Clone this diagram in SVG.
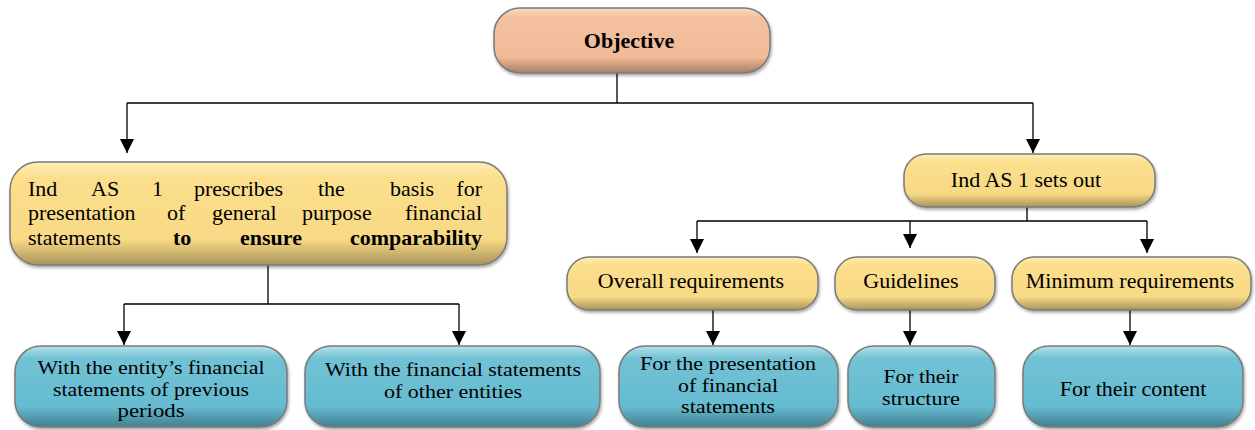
<svg xmlns="http://www.w3.org/2000/svg" width="1255" height="430" viewBox="0 0 1255 430">
<defs>
<linearGradient id="gO" x1="0" y1="0" x2="0" y2="1">
<stop offset="0" stop-color="#f9dcc6"/><stop offset="0.15" stop-color="#f4c09e"/><stop offset="0.75" stop-color="#f1bb98"/><stop offset="1" stop-color="#a77f66"/>
</linearGradient>
<linearGradient id="gY" x1="0" y1="0" x2="0" y2="1">
<stop offset="0" stop-color="#fdeeb8"/><stop offset="0.15" stop-color="#fbdf8c"/><stop offset="0.75" stop-color="#f8d985"/><stop offset="1" stop-color="#a8945a"/>
</linearGradient>
<linearGradient id="gB" x1="0" y1="0" x2="0" y2="1">
<stop offset="0" stop-color="#b7e1ea"/><stop offset="0.15" stop-color="#72c2d5"/><stop offset="0.75" stop-color="#66bbd0"/><stop offset="1" stop-color="#427f8f"/>
</linearGradient>
<filter id="sh" x="-5%" y="-10%" width="110%" height="130%">
<feDropShadow dx="1" dy="2" stdDeviation="1.5" flood-color="#000" flood-opacity="0.35"/>
</filter>
<marker id="ah" markerUnits="userSpaceOnUse" markerWidth="14" markerHeight="18" refX="14" refY="7" orient="auto">
<path d="M0,0 L14,7 L0,14 Z" fill="#000"/>
</marker>
</defs>
<style>
.box{stroke:#7a7a7a;stroke-width:1.5;filter:url(#sh)}
.o{fill:url(#gO)}
.y{fill:url(#gY)}
.b{fill:url(#gB)}
text{font-family:"Liberation Serif","Times New Roman",serif;font-size:22px;fill:#000}
.c{text-anchor:middle}
.bd{font-weight:bold}
.s{font-size:19px}
.ln{fill:none;stroke:#000;stroke-width:1.3}
</style>

<g id="connectors">
<path class="ln" d="M617,73 V103 M127,103 H1033"/>
<path class="ln" d="M127,103 V153" marker-end="url(#ah)"/>
<path class="ln" d="M1033,103 V153" marker-end="url(#ah)"/>
<path class="ln" d="M268,265 V304 M124,304 H459"/>
<path class="ln" d="M124,304 V345" marker-end="url(#ah)"/>
<path class="ln" d="M459,304 V345" marker-end="url(#ah)"/>
<path class="ln" d="M1027,207 V221 M697,221 H1147"/>
<path class="ln" d="M697,221 V253" marker-end="url(#ah)"/>
<path class="ln" d="M910,221 V248" marker-end="url(#ah)"/>
<path class="ln" d="M1147,221 V253" marker-end="url(#ah)"/>
<path class="ln" d="M713,310 V345" marker-end="url(#ah)"/>
<path class="ln" d="M910,310 V345" marker-end="url(#ah)"/>
<path class="ln" d="M1130,310 V345" marker-end="url(#ah)"/>
</g>

<g id="objective">
<rect class="box o" x="494" y="8" width="276" height="65" rx="26"/>
<text class="c bd" x="629" y="48">Objective</text>
</g>

<g id="prescribes">
<rect class="box y" x="10" y="162" width="497" height="103" rx="28"/>
<text x="28" y="196">Ind</text><text x="91" y="196">AS</text><text x="152" y="196">1</text><text x="194" y="196">prescribes</text><text x="318" y="196">the</text><text x="390" y="196">basis</text><text x="482" y="196" text-anchor="end">for</text>
<text x="28" y="220">presentation</text><text x="167" y="220">of</text><text x="212" y="220">general</text><text x="302" y="220">purpose</text><text x="482" y="220" text-anchor="end">financial</text>
<text x="28" y="245">statements</text><text class="bd" x="173" y="245">to</text><text class="bd" x="240" y="245">ensure</text><text class="bd" x="482" y="245" text-anchor="end">comparability</text>
</g>

<g id="setsout">
<rect class="box y" x="904" y="154" width="251" height="53" rx="22"/>
<text class="c" x="1026" y="187">Ind AS 1 sets out</text>
</g>

<g id="overall">
<rect class="box y" x="567" y="257" width="251" height="53" rx="22"/>
<text class="c" x="691" y="288">Overall requirements</text>
</g>

<g id="guidelines">
<rect class="box y" x="835" y="257" width="160" height="53" rx="22"/>
<text class="c" x="911" y="288">Guidelines</text>
</g>

<g id="minimum">
<rect class="box y" x="1012" y="257" width="239" height="53" rx="22"/>
<text class="c" x="1130" y="288">Minimum requirements</text>
</g>

<g id="previous">
<rect class="box b" x="15" y="346" width="272" height="81" rx="26"/>
<text class="c s" x="151" y="374" textLength="227" lengthAdjust="spacingAndGlyphs">With the entity’s financial</text>
<text class="c s" x="151" y="395.5" textLength="196" lengthAdjust="spacingAndGlyphs">statements of previous</text>
<text class="c s" x="151" y="417" textLength="67" lengthAdjust="spacingAndGlyphs">periods</text>
</g>

<g id="others">
<rect class="box b" x="305" y="346" width="295" height="81" rx="26"/>
<text class="c s" x="453" y="376" textLength="256" lengthAdjust="spacingAndGlyphs">With the financial statements</text>
<text class="c s" x="453" y="397.5" textLength="138" lengthAdjust="spacingAndGlyphs">of other entities</text>
</g>

<g id="presentation">
<rect class="box b" x="619" y="346" width="219" height="81" rx="26"/>
<text class="c s" x="728" y="370" textLength="176" lengthAdjust="spacingAndGlyphs">For the presentation</text>
<text class="c s" x="728" y="391.5" textLength="100" lengthAdjust="spacingAndGlyphs">of financial</text>
<text class="c s" x="728" y="413" textLength="94" lengthAdjust="spacingAndGlyphs">statements</text>
</g>

<g id="structure">
<rect class="box b" x="848" y="346" width="147" height="81" rx="26"/>
<text class="c s" x="921" y="383" textLength="75" lengthAdjust="spacingAndGlyphs">For their</text>
<text class="c s" x="921" y="404.5" textLength="78" lengthAdjust="spacingAndGlyphs">structure</text>
</g>

<g id="content">
<rect class="box b" x="1023" y="346" width="220" height="81" rx="26"/>
<text class="c" x="1133" y="396">For their content</text>
</g>
</svg>
